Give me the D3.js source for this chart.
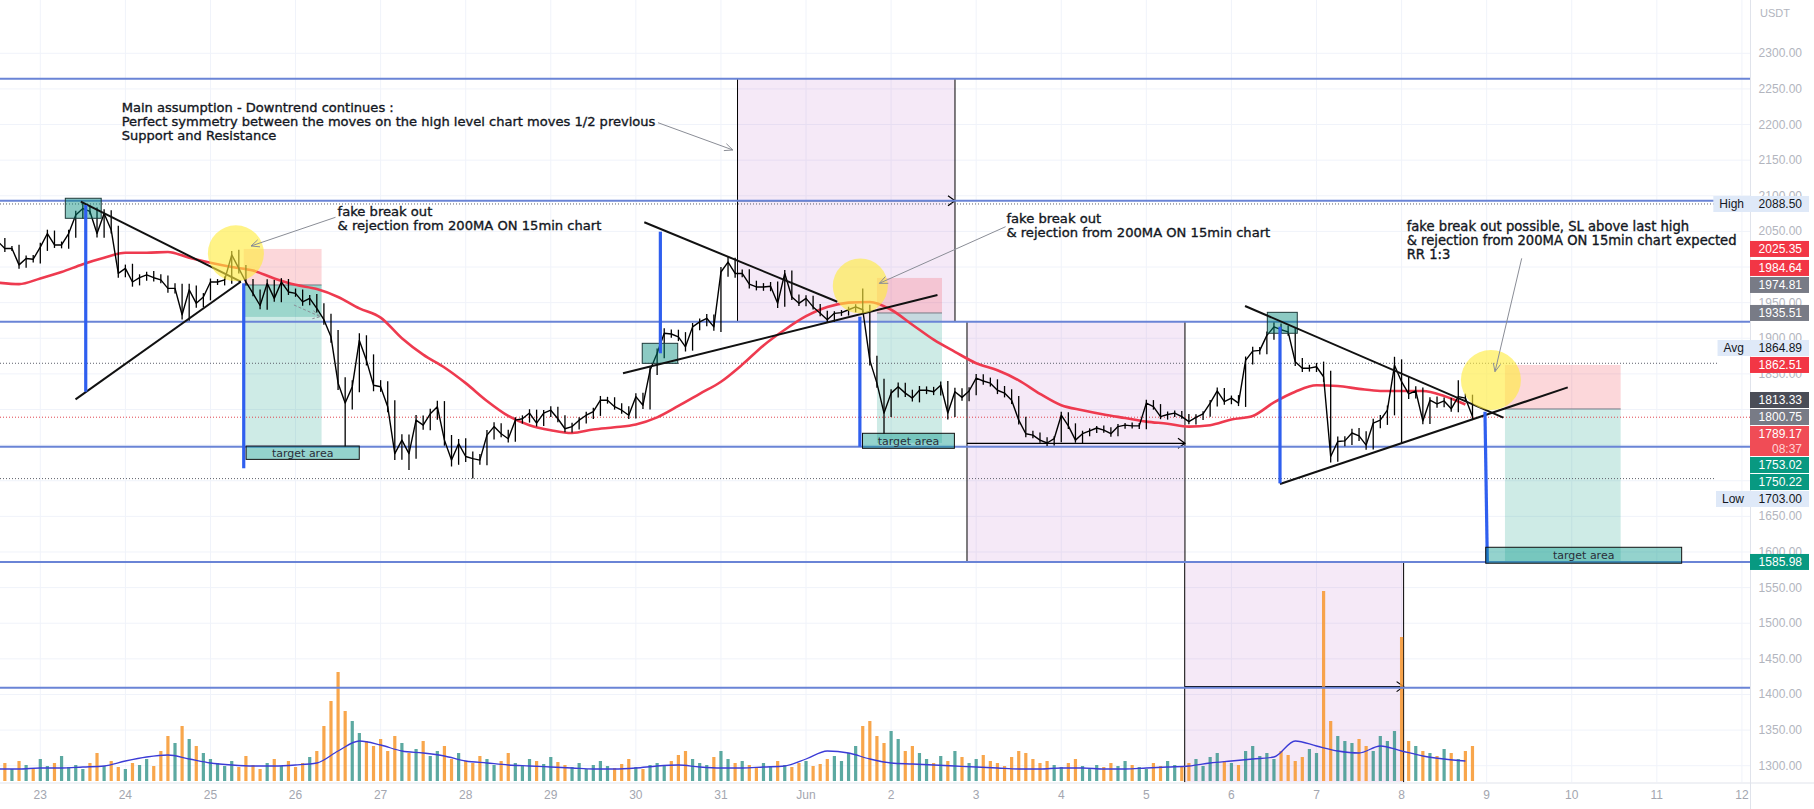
<!DOCTYPE html>
<html><head><meta charset="utf-8">
<script src="https://cdn.jsdelivr.net/npm/d3@7/dist/d3.min.js"></script>
<style>html,body{margin:0;padding:0;background:#fff}svg{display:block}</style>
</head><body>
<svg id="c" width="1814" height="809"></svg>
<script>
// ---------------- DATA ----------------
// time is expressed in days from 2022-05-23 00:00 UTC
const seriesStartDay = -0.5, seriesStepDay = 1/12;          // 2h bars
const closes = [
2036,2026,2026,2003,2012,2011,2028,2047,2031,2031,
2047,2073,2082,2078,2047,2075,2052,1991,1998,1979,
1985,1989,1985,1982,1970,1970,1933,1968,1949,1958,
1979,1979,1982,2017,1998,1979,1963,1946,1977,1956,
1979,1965,1963,1951,1956,1942,1926,1902,1837,1809,
1832,1897,1869,1834,1832,1804,1738,1757,1738,1785,
1778,1794,1804,1757,1729,1752,1734,1731,1729,1764,
1776,1766,1759,1785,1787,1795,1781,1795,1799,1787,
1773,1776,1785,1792,1797,1813,1813,1804,1799,1792,
1818,1806,1855,1879,1907,1906,1902,1888,1916,1923,
1928,1916,1993,2007,1991,1991,1976,1972,1972,1973,
1949,1991,1958,1949,1956,1944,1935,1926,1935,1936,
1940,1944,1940,1869,1837,1795,1823,1832,1823,1816,
1827,1827,1825,1834,1795,1825,1817,1826,1844,1840,
1837,1827,1823,1813,1785,1766,1764,1757,1753,1759,
1792,1777,1757,1766,1770,1774,1771,1766,1776,1778,
1777,1777,1809,1804,1790,1793,1795,1790,1783,1789,
1794,1809,1826,1811,1816,1809,1869,1882,1883,1904,
1916,1912,1909,1867,1858,1858,1860,1846,1734,1755,
1756,1767,1763,1750,1781,1785,1799,1862,1839,1822,
1826,1784,1813,1808,1812,1801,1818,1816,1790];
// typical intrabar wick size of each 2h bar (price units)
const wick = [
7,8,6,9,7,8,10,9,7,8,9,10,8,7,9,10,8,
10,9,11,8,7,9,8,10,12,11,14,10,9,8,
7,8,9,12,8,7,9,10,8,9,7,8,9,8,10,
12,14,16,14,15,13,12,14,12,13,15,14,13,12,11,12,14,13,12,11,13,12,11,12,10,
8,9,7,8,9,8,7,9,8,8,9,7,8,9,10,8,7,8,9,8,
9,10,11,12,9,10,11,9,8,10,9,12,11,10,9,10,8,9,10,11,
8,7,6,7,6,7,6,5,6,7,6,8,
12,11,10,9,10,9,8,10,9,8,9,10,9,8,9,10,9,8,9,10,9,10,8,
7,6,7,6,8,7,6,7,6,5,6,7,6,5,6,7,8,7,6,7,6,5,6,7,6,7,8,7,6,7,
9,10,8,9,10,8,9,10,9,8,9,
12,14,12,11,10,12,11,10,12,11,12,14,12,11,
8,7,9,8,7,8,7,8];
// notable extreme wicks: [bar index, price]
const spikeLows  = [[49,1748],[56,1730],[58,1715],[64,1720],[67,1703],[125,1766],[134,1786],[188,1727],[198,1752]];
const spikeHighs = [[12,2090],[33,2022],[51,1907],[103,2015],[122,1970],[197,1874],[206,1841]];

const maStartDay = -0.5, maStepDay = 0.25;                   // 200MA sampled every 6h
const ma200 = [
1978,1976,1984,1993,2004,2013,2020,2020,2021,2013,
2006,2000,1995,1984,1975,1969,1958,1942,1929,1900,
1877,1859,1837,1812,1791,1778,1771,1767,1772,1775,
1779,1789,1805,1822,1839,1863,1890,1912,1931,1944,
1950,1951,1940,1919,1898,1881,1865,1855,1841,1822,
1806,1799,1793,1788,1783,1780,1776,1778,1786,1791,
1810,1825,1834,1833,1829,1826,1826,1826,1819,1807];

const volume = [
14,18,12,20,16,13,22,15,18,25,14,
16,12,18,28,15,20,14,12,18,16,22,15,
30,45,38,55,42,35,28,22,
18,15,20,14,25,16,12,18,22,15,20,14,18,24,30,
55,80,109,70,60,48,40,
35,42,30,45,38,28,32,40,25,30,35,22,28,
20,18,25,22,16,20,28,18,15,22,20,17,24,19,16,
14,18,12,16,20,15,13,17,22,14,12,16,18,15,20,26,30,22,18,16,
24,30,22,18,20,16,14,18,15,20,
16,14,18,20,15,17,22,25,20,
28,35,55,60,45,38,50,42,30,35,28,
22,18,25,20,30,24,18,22,26,20,18,15,24,30,28,22,18,20,16,14,18,22,15,12,16,14,18,15,20,16,
14,12,18,15,20,16,14,18,22,15,24,28,20,18,16,
30,35,25,28,22,30,26,20,24,32,28,
190,60,45,40,
38,42,35,30,45,40,
50,144,
40,35,30,28,25,32,28,22,30,35];
const volMA = [
12,12,13,13,14,15,20,24,26,22,18,16,15,15,16,18,30,40,36,30,
28,25,20,18,16,15,14,13,12,12,13,15,16,14,13,13,14,15,22,30,
28,22,18,17,16,15,14,13,12,12,13,13,12,12,13,14,15,18,20,22,
24,40,35,30,28,35,30,25,22,20];

const priceTicks = [2300,2250,2200,2150,2100,2050,2000,1950,1900,1850,1800,1750,1700,1650,1600,1550,1500,1450,1400,1350,1300];
const dayTickStart = 0, dayTickEnd = 20;

const levelPrices = [2264.3, 2093.1, 1923.2, 1747.8, 1585.98, 1409.5];   // blue horizontal S/R
const highPrice = 2088.50, avgPrice = 1864.89, lowPrice = 1703.00, lastPrice = 1789.17;

const tagValues = [2088.50,2025.35,1984.64,1974.81,1935.51,1864.89,1862.51,1813.33,1800.75,1789.17,1753.02,1750.22,1703.00,1585.98];
const tagKinds  = ['hl','red','red','grey','grey','hl','red','dark','grey','cur','green','green','hl','green'];
const tagNames  = ['High','','','','','Avg','','','','','','','Low',''];
const tagPinned = [false,false,false,true,false,false,true,true,false,false,false,false,false,false];

// drawings (day offset, price)
const trendLines = [
 [[0.476,2091.7],[2.357,1979.4]],
 [[0.414,1814.3],[2.357,1979.4]],
 [[7.099,2062.8],[9.368,1951.3]],
 [[6.849,1850.8],[10.545,1960.7]],
 [[14.16,1945.3],[17.196,1788.5]],
 [[14.571,1695.4],[17.953,1831.0]]];
const moveLines = [
 [[0.534,2087],[0.534,1825]],
 [[2.391,1977.1],[2.391,1717.5]],
 [[7.288,2049.6],[7.288,1878.9]],
 [[9.633,1930.3],[9.633,1747.8]],
 [[14.571,1916.2],[14.571,1696.4]],
 [[16.98,1796.9],[17.008,1584.1]]];
const pivotBoxes = [
 [0.294,0.716,2096.5,2068.4],
 [7.075,7.492,1892.9,1864.8],
 [14.422,14.774,1936.4,1907.0]];
const circles = [[2.299,2019.3],[9.638,1973.4],[17.05,1841.4]];
const circleR = [28,27.5,30];
// short positions: start, end, stop, entry, target
const positions = [
 [2.391,3.306,2025.35,1974.81,1750.22],
 [9.834,10.598,1984.64,1935.51,1753.02],
 [17.215,18.575,1862.51,1800.75,1585.98]];
const targetBoxes = [
 [2.419,3.749,1748.7,1730.0],
 [9.664,10.744,1766.6,1745.5],
 [16.989,19.292,1606.6,1584.2]];
// date ranges: start, end, top price, bottom price (null = pane bottom), arrow price
const dateRanges = [
 [8.195,10.751,2264.3,1923.2,2093.1],
 [10.892,13.454,1923.2,1585.98,1752.5],
 [13.451,16.024,1585.98,null,1411]];
const noteArrows = [
 [[7.26,2202.6],[8.14,2164.3]],
 [[3.47,2069.8],[2.477,2029.5]],
 [[11.346,2056.6],[9.862,1977.1]],
 [[17.412,2012.2],[17.098,1853.1]]];
const notes = [
 {at:[0.956,2217.2], lines:["Main assumption - Downtrend continues :","Perfect symmetry between the moves on the high level chart moves 1/2 previous","Support and Resistance"], fit:1, w:534},
 {at:[3.494,2071.6], lines:["fake break out","& rejection from 200MA ON 15min chart"], fit:1, w:264},
 {at:[11.355,2061.4], lines:["fake break out","& rejection from 200MA ON 15min chart"], fit:1, w:264},
 {at:[16.06,2051.0], lines:["fake break out possible, SL above last high","& rejection from 200MA ON 15min chart expected","RR 1:3"], fit:1, w:330}];

// ---------------- CHART ----------------
const BASE = Date.UTC(2022,4,23);
const T = d => new Date(BASE + d*864e5);
const PR = 1750, PB = 782.5, VB = 781;
const svg = d3.select('#c');
const x = d3.scaleUtc().domain([T(0),T(20)]).range([40.3,1741.9]);
const y = d3.scaleLinear().domain([1300,2300]).range([765.7,53.3]);
const yv = d3.scaleLinear().domain([0,200]).range([VB,VB-200]);
const px = p => x(T(p[0])), py = p => y(p[1]);

svg.append('defs').append('clipPath').attr('id','plot').append('rect').attr('x',0).attr('y',0).attr('width',PR).attr('height',PB);
const g = svg.append('g').attr('clip-path','url(#plot)');

// grid
const days = d3.range(dayTickStart, dayTickEnd+1).map(T);
g.selectAll('.vg').data(days).join('line').attr('x1',d=>x(d)).attr('x2',d=>x(d)).attr('y1',0).attr('y2',PB).attr('stroke','#f0f3fa');
g.selectAll('.hg').data(priceTicks).join('line').attr('x1',0).attr('x2',PR).attr('y1',d=>y(d)).attr('y2',d=>y(d)).attr('stroke','#f0f3fa');

// date ranges
dateRanges.forEach(r=>{
  const x0=x(T(r[0])), x1=x(T(r[1])), y0=y(r[2]), y1=r[3]===null?PB:y(r[3]);
  g.append('rect').attr('x',x0).attr('y',y0).attr('width',x1-x0).attr('height',y1-y0).attr('fill','rgba(156,39,176,0.1)');
  [x0,x1].forEach(xx=>g.append('line').attr('x1',xx).attr('x2',xx).attr('y1',y0).attr('y2',y1).attr('stroke','#000').attr('stroke-width',1));
  const ya=y(r[4]);
  g.append('path').attr('d',`M${x0},${ya}L${x1},${ya}M${x1-7},${ya-5}L${x1},${ya}L${x1-7},${ya+5}`).attr('fill','none').attr('stroke','#000').attr('stroke-width',1.2);
});

// positions
positions.forEach(p=>{
  const x0=x(T(p[0])), x1=x(T(p[1]));
  g.append('rect').attr('x',x0).attr('y',y(p[2])).attr('width',x1-x0).attr('height',y(p[3])-y(p[2])).attr('fill','rgba(242,54,69,0.2)');
  g.append('rect').attr('x',x0).attr('y',y(p[3])).attr('width',x1-x0).attr('height',y(p[4])-y(p[3])).attr('fill','rgba(8,153,129,0.2)');
  g.append('line').attr('x1',x0).attr('x2',x1).attr('y1',y(p[3])).attr('y2',y(p[3])).attr('stroke','#787b86').attr('stroke-width',1);
});
g.append('rect').attr('x',x(T(positions[0][0]))).attr('y',y(positions[0][3])).attr('width',x(T(positions[0][1]))-x(T(positions[0][0]))).attr('height',y(1930)-y(positions[0][3])).attr('fill','rgba(8,153,129,0.25)');

// volume
const barT = i => T(seriesStartDay + i*seriesStepDay);
g.selectAll('.vb').data(volume).join('rect')
  .attr('x',(d,i)=>x(barT(i))-1.6).attr('width',3.2)
  .attr('y',d=>yv(d)).attr('height',d=>VB-yv(d))
  .attr('fill',(d,i)=> (i>0 && closes[i]<closes[i-1]) ? 'rgba(247,151,45,0.85)' : 'rgba(38,140,130,0.75)');
g.append('path').datum(volMA).attr('fill','none').attr('stroke','#3b3bd6').attr('stroke-width',1.3)
  .attr('d',d3.line().x((d,i)=>x(T(maStartDay+i*maStepDay))).y(d=>yv(d)).curve(d3.curveMonotoneX));

// horizontal S/R lines
g.selectAll('.lv').data(levelPrices).join('line').attr('x1',0).attr('x2',PR).attr('y1',d=>y(d)).attr('y2',d=>y(d)).attr('stroke','#6a84d6').attr('stroke-width',2);

// dotted stat lines
[[highPrice,'#5d606b',1714],[avgPrice,'#5d606b',1719],[lowPrice,'#5d606b',1716],[lastPrice,'#e0444e',PR]].forEach(l=>{
  g.append('line').attr('x1',0).attr('x2',l[2]).attr('y1',y(l[0])).attr('y2',y(l[0])).attr('stroke',l[1]).attr('stroke-width',1).attr('stroke-dasharray','1,2');
});

// MA
g.append('path').datum(ma200).attr('fill','none').attr('stroke','#ee3a4f').attr('stroke-width',2.6)
  .attr('d',d3.line().x((d,i)=>x(T(maStartDay+i*maStepDay))).y(d=>y(d)).curve(d3.curveMonotoneX));

// price: high-low bars + close line
const lowMap = new Map(spikeLows), highMap = new Map(spikeHighs);
const bars = closes.map((c,i)=>{
  const o = i>0?closes[i-1]:c;
  let hi = Math.max(o,c)+wick[i]*0.6, lo = Math.min(o,c)-wick[i]*0.6;
  if(highMap.has(i)) hi=Math.max(hi,highMap.get(i));
  if(lowMap.has(i)) lo=Math.min(lo,lowMap.get(i));
  return {t:barT(i),hi,lo};
});
g.selectAll('.pb').data(bars).join('line').attr('x1',d=>x(d.t)).attr('x2',d=>x(d.t)).attr('y1',d=>y(d.hi)).attr('y2',d=>y(d.lo)).attr('stroke','#000').attr('stroke-width',1.3);
g.append('path').datum(closes).attr('fill','none').attr('stroke','#000').attr('stroke-width',1.4).attr('stroke-linejoin','round')
  .attr('d',d3.line().x((d,i)=>x(barT(i))).y(d=>y(d)));

// pivot boxes
pivotBoxes.forEach(b=>{
  g.append('rect').attr('x',x(T(b[0]))).attr('y',y(b[2])).attr('width',x(T(b[1]))-x(T(b[0]))).attr('height',y(b[3])-y(b[2]))
   .attr('fill','rgba(0,137,123,0.45)').attr('stroke','#1e3a3a').attr('stroke-width',1);
});
trendLines.forEach(l=>g.append('line').attr('x1',px(l[0])).attr('y1',py(l[0])).attr('x2',px(l[1])).attr('y2',py(l[1])).attr('stroke','#111').attr('stroke-width',2));
moveLines.forEach(l=>g.append('line').attr('x1',px(l[0])).attr('y1',py(l[0])).attr('x2',px(l[1])).attr('y2',py(l[1])).attr('stroke','#2f5fef').attr('stroke-width',3.2));
circles.forEach((c,i)=>g.append('circle').attr('cx',px(c)).attr('cy',py(c)).attr('r',circleR[i]).attr('fill','rgba(255,235,59,0.62)'));
targetBoxes.forEach(b=>{
  const x0=x(T(b[0])), x1=x(T(b[1])), y0=y(b[2]), y1=y(b[3]);
  g.append('rect').attr('x',x0).attr('y',y0).attr('width',x1-x0).attr('height',y1-y0).attr('fill','rgba(0,150,136,0.42)').attr('stroke','#111').attr('stroke-width',1);
  g.append('text').attr('x',(x0+x1)/2).attr('y',(y0+y1)/2+4).attr('text-anchor','middle').attr('font-family','DejaVu Sans').attr('font-size',11).attr('fill','#2a2e39').text('target area');
});
noteArrows.forEach(a=>{
  const x1=px(a[0]),y1=py(a[0]),x2=px(a[1]),y2=py(a[1]);
  const ang=Math.atan2(y2-y1,x2-x1), L=9, s=0.42;
  const h1=[x2-L*Math.cos(ang-s),y2-L*Math.sin(ang-s)], h2=[x2-L*Math.cos(ang+s),y2-L*Math.sin(ang+s)];
  g.append('path').attr('d',`M${x1},${y1}L${x2},${y2}M${h1}L${x2},${y2}L${h2}`).attr('fill','none').attr('stroke','#8a8d96').attr('stroke-width',1);
});
(function(){const x1=x(T(2.981)),y1=y(1946.7),x2=x(T(3.292)),y2=y(1930.3);
 g.append('path').attr('d',`M${x1},${y1}L${x2},${y2}M${x2-7},${y2-6}L${x2},${y2}L${x2-8},${y2+2}`).attr('fill','none').attr('stroke','#8a8d96').attr('stroke-dasharray','3,2');})();
notes.forEach(n=>{
  const t=g.append('text').attr('font-family','DejaVu Sans').attr('font-size',12).attr('fill','#131722')
    .attr('stroke','#131722').attr('stroke-width',0.35);
  n.lines.forEach((l,i)=>t.append('tspan').attr('x',px(n.at)).attr('y',py(n.at)+i*14).text(l));
  const nodes=t.selectAll('tspan').nodes();
  const w=nodes[n.fit].getComputedTextLength();
  t.attr('font-size',12*n.w/w);
});

// ---------------- AXES ----------------
svg.append('rect').attr('x',PR).attr('y',0).attr('width',1814-PR).attr('height',809).attr('fill','#fff');
svg.append('rect').attr('x',0).attr('y',PB).attr('width',1814).attr('height',809-PB).attr('fill','#fff');
svg.append('line').attr('x1',PR+0.5).attr('x2',PR+0.5).attr('y1',0).attr('y2',809).attr('stroke','#e0e3eb');
svg.append('line').attr('x1',0).attr('x2',1814).attr('y1',PB+0.5).attr('y2',PB+0.5).attr('stroke','#e0e3eb');
svg.append('text').attr('x',1760).attr('y',17).attr('font-family','Liberation Sans').attr('font-size',11).attr('fill','#b2b5be').text('USDT');

// tags with overlap stacking
const tags = tagValues.map((v,i)=>({v,kind:tagKinds[i],name:tagNames[i],pin:tagPinned[i],h:tagKinds[i]==='cur'?30:16}));
tags.forEach(t=>t.top=y(t.v)-8);
for(let i=1;i<tags.length;i++){
  const p=tags[i-1], t=tags[i];
  if(t.top < p.top+p.h+1){ if(t.pin) p.top=t.top-p.h-1; else t.top=p.top+p.h+1; }
}
// price tick labels (those fully under a tag are not shown, as in the platform)
const covered = v => tags.some(t=>y(v)>=t.top && y(v)<=t.top+t.h);
svg.selectAll('.pt').data(priceTicks.filter(v=>!covered(v))).join('text').attr('x',1802).attr('y',d=>y(d)+4).attr('text-anchor','end')
  .attr('font-family','Liberation Sans').attr('font-size',12).attr('fill','#b2b5be').text(d=>d3.format('.2f')(d));
svg.selectAll('.dt').data(days).join('text').attr('x',d=>x(d)).attr('y',799).attr('text-anchor','middle')
  .attr('font-family','Liberation Sans').attr('font-size',12).attr('fill','#a3a6af')
  .text(d=>d.getUTCDate()===1?d3.utcFormat('%b')(d):d.getUTCDate());

const col={red:['#f23645','#fff'],grey:['#787b86','#fff'],dark:['#4a4d57','#fff'],cur:['#f04c56','#fff'],green:['#089981','#fff'],hl:['#dfe9f8','#131722']};
tags.forEach(t=>{
  const c=col[t.kind];
  svg.append('rect').attr('x',PR).attr('y',t.top).attr('width',59).attr('height',t.h).attr('fill',c[0]);
  svg.append('text').attr('x',1802).attr('y',t.top+12.3).attr('text-anchor','end').attr('font-family','Liberation Sans').attr('font-size',12).attr('fill',c[1]).text(d3.format('.2f')(t.v));
  if(t.kind==='cur') svg.append('text').attr('x',1802).attr('y',t.top+27).attr('text-anchor','end').attr('font-family','Liberation Sans').attr('font-size',12).attr('fill','#ffd2d5').text('08:37');
  if(t.name){
    const tx=svg.append('text').attr('x',1744).attr('y',t.top+12.3).attr('text-anchor','end').attr('font-family','Liberation Sans').attr('font-size',12).attr('fill','#131722').text(t.name);
    const w=tx.node().getComputedTextLength();
    svg.insert('rect',()=>tx.node()).attr('x',1744-w-6).attr('y',t.top).attr('width',PR-(1744-w-6)).attr('height',t.h).attr('fill',c[0]);
  }
});
</script>
</body></html>
